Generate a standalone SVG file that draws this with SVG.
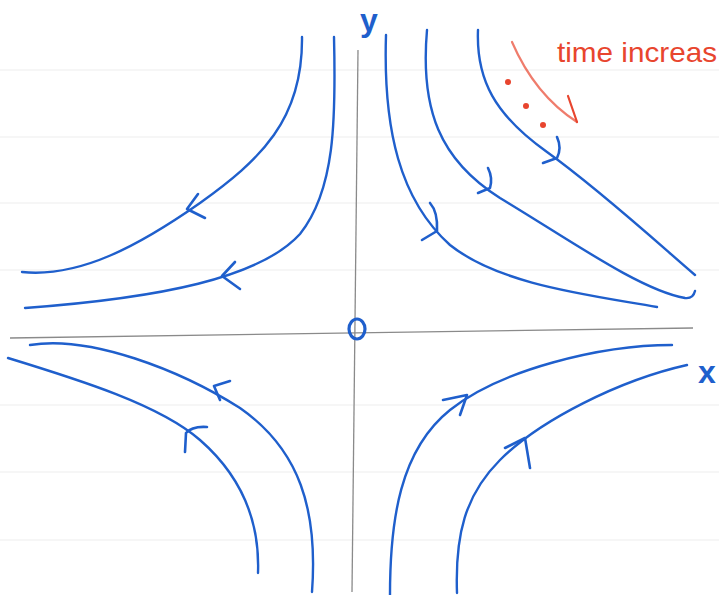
<svg xmlns="http://www.w3.org/2000/svg" width="719" height="595" viewBox="0 0 719 595">
<style>
.rule{stroke:#f3f3f3;stroke-width:1.5;fill:none}
.axis{stroke:#8a8a8a;stroke-width:1.3;fill:none}
.traj{stroke:#1f5fcc;stroke-width:2.4;fill:none;stroke-linecap:round;stroke-linejoin:round}
.head{stroke:#1f5fcc;stroke-width:2.6;fill:none;stroke-linecap:round;stroke-linejoin:round}
.lbl{fill:#1f5fcc;font-family:"Liberation Sans",Arial,sans-serif}
.red{stroke:#e8452e;stroke-width:2.2;fill:none;stroke-linecap:round}
</style>
<rect width="719" height="595" fill="#ffffff"/>
<g id="paper-rules">
<path class="rule" d="M0,70H719M0,137H719M0,203H719M0,270H719M0,405H719M0,472H719M0,540H719"/>
</g>
<g id="axes">
<path class="axis" d="M358,50 L352,592"/>
<path class="axis" d="M10,338 L693,328"/>
</g>
<g id="connectors">
<g id="traj-tl-outer">
<path class="traj" d="M302,37 C303,120 260,160 200,203 C140,245 80,278 22,272"/>
<path class="head" d="M198,194 L187,209 L205,218"/>
</g>
<g id="traj-tl-inner">
<path class="traj" d="M334,37 C336,120 335,190 300,234 C260,278 160,298 25,308"/>
<path class="head" d="M235,262 L222,276 L240,289"/>
</g>
<g id="traj-tr-inner">
<path class="traj" d="M386,35 C383,130 400,200 450,245 C500,285 590,295 657,307"/>
<path class="head" d="M430,203 Q438,212 437,231 L422,240"/>
</g>
<g id="traj-tr-middle">
<path class="traj" d="M427,30 C420,110 440,160 500,198 C570,240 640,290 685,298 Q693,299 695,291"/>
<path class="head" d="M488,168 Q493,178 490,188 L478,193"/>
</g>
<g id="traj-tr-outer">
<path class="traj" d="M478,30 C476,80 495,115 547,152 C600,190 660,245 695,275"/>
<path class="head" d="M557,137 Q562,148 557,158 L543,163"/>
</g>
<g id="traj-bl-inner">
<path class="traj" d="M30,345 C90,335 180,370 240,408 C300,450 318,510 312,592"/>
<path class="head" d="M230,381 L214,386 L220,400"/>
</g>
<g id="traj-bl-outer">
<path class="traj" d="M8,358 C80,380 160,405 200,440 C240,475 260,520 258,573"/>
<path class="head" d="M207,427 Q192,426 186,433 L185,452"/>
</g>
<g id="traj-br-inner">
<path class="traj" d="M672,345 C600,345 500,370 450,410 C400,450 390,520 390,595"/>
<path class="head" d="M443,400 L467,395 L460,415"/>
</g>
<g id="traj-br-outer">
<path class="traj" d="M687,365 C620,380 540,420 500,460 C465,495 455,535 457,593"/>
<path class="head" d="M505,448 L525,438 L530,468"/>
</g>
</g>
<g id="labels">
<text class="lbl" x="369" y="31" font-size="32" font-weight="bold" text-anchor="middle">y</text>
<text class="lbl" x="707" y="383" font-size="32" font-weight="bold" text-anchor="middle">x</text>
<ellipse cx="357" cy="329" rx="8" ry="10" fill="none" stroke="#1f5fcc" stroke-width="3.2"/>
</g>
<g id="annotation">
<path class="red" d="M512,42 Q535,95 577,122" stroke-opacity="0.7"/>
<path class="red" d="M568,96 L577,122"/>
<circle cx="508" cy="82" r="3" fill="#e8452e"/>
<circle cx="526" cy="106" r="3" fill="#e8452e"/>
<circle cx="543" cy="125" r="3" fill="#e8452e"/>
<text x="557" y="62" font-size="28" fill="#e8452e" font-family="Liberation Sans,Arial,sans-serif" textLength="160" lengthAdjust="spacingAndGlyphs">time increas</text>
</g>
</svg>
